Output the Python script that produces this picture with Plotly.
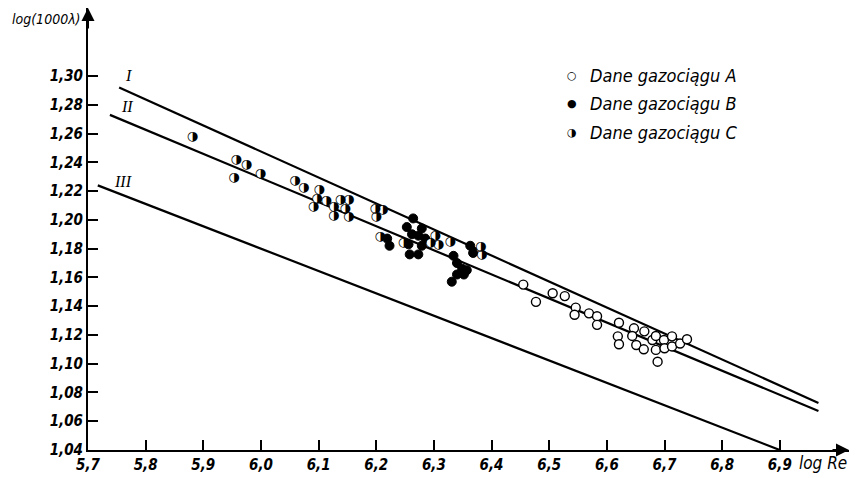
import plotly.graph_objects as go

# ---- data ----
# Dane gazociągu A (open circles)
a_x = [6.455, 6.477, 6.506, 6.527, 6.546, 6.544, 6.569, 6.583, 6.583, 6.621, 6.619, 6.621,
       6.647, 6.644, 6.651, 6.665, 6.664, 6.679, 6.685, 6.685, 6.688, 6.699, 6.700, 6.713,
       6.713, 6.727, 6.739]
a_y = [1.155, 1.143, 1.149, 1.147, 1.139, 1.134, 1.135, 1.133, 1.127, 1.1285, 1.119, 1.1135,
       1.1246, 1.1193, 1.113, 1.1225, 1.110, 1.1165, 1.1193, 1.1096, 1.1014, 1.1165, 1.1107, 1.119,
       1.112, 1.114, 1.117]

# Dane gazociągu B (filled circles)
b_x = [6.264, 6.253, 6.279, 6.262, 6.273, 6.285, 6.256, 6.279, 6.258, 6.273, 6.219, 6.223,
       6.363, 6.368, 6.334, 6.340, 6.349, 6.357, 6.352, 6.340, 6.331]
b_y = [1.201, 1.195, 1.194, 1.190, 1.189, 1.187, 1.183, 1.182, 1.176, 1.176, 1.187, 1.182,
       1.182, 1.177, 1.175, 1.170, 1.166, 1.165, 1.162, 1.162, 1.157]

# Dane gazociągu C (half-filled circles)
c_x = [5.881, 5.957, 5.975, 5.953, 5.999, 6.059, 6.074, 6.101, 6.097, 6.113, 6.091, 6.126,
       6.138, 6.152, 6.146, 6.126, 6.152, 6.198, 6.211, 6.200, 6.207, 6.247, 6.294, 6.302,
       6.308, 6.328, 6.381, 6.383]
c_y = [1.258, 1.242, 1.238, 1.229, 1.232, 1.227, 1.222, 1.221, 1.215, 1.213, 1.209, 1.209,
       1.214, 1.214, 1.208, 1.203, 1.202, 1.208, 1.207, 1.202, 1.188, 1.184, 1.184, 1.189,
       1.183, 1.185, 1.181, 1.176]

# straight lines I, II, III (end points)
line_I_x = [5.754, 6.967]
line_I_y = [1.292, 1.0727]
line_II_x = [5.738, 6.967]
line_II_y = [1.273, 1.0671]
line_III_x = [5.717, 6.900]
line_III_y = [1.224, 1.040]
line_names = ["I", "II", "III"]
line_label_x = [5.771, 5.768, 5.761]
line_label_y = [1.3007, 1.2790, 1.2270]

x_ticks = [5.7, 5.8, 5.9, 6.0, 6.1, 6.2, 6.3, 6.4, 6.5, 6.6, 6.7, 6.8, 6.9]
x_labels = ["5,7", "5,8", "5,9", "6,0", "6,1", "6,2", "6,3", "6,4", "6,5", "6,6", "6,7", "6,8", "6,9"]
y_ticks = [1.04, 1.06, 1.08, 1.10, 1.12, 1.14, 1.16, 1.18, 1.20, 1.22, 1.24, 1.26, 1.28, 1.30]
y_labels = ["1,04", "1,06", "1,08", "1,10", "1,12", "1,14", "1,16", "1,18", "1,20", "1,22",
            "1,24", "1,26", "1,28", "1,30"]

legend_labels = ["Dane gazociągu A", "Dane gazociągu B", "Dane gazociągu C"]
legend_symbols = ["○", "●", "◑"]

FONT = "Liberation Sans Narrow, DejaVu Sans Condensed, sans-serif"
SERIF = "Liberation Serif, DejaVu Serif, serif"

fig = go.Figure()

for lx, ly in [(line_I_x, line_I_y), (line_II_x, line_II_y), (line_III_x, line_III_y)]:
    fig.add_trace(go.Scatter(x=lx, y=ly, mode="lines",
                             line=dict(color="black", width=2.2),
                             hoverinfo="skip", showlegend=False))

fig.add_trace(go.Scatter(x=a_x, y=a_y, mode="markers", name=legend_labels[0],
                         marker=dict(symbol="circle", size=9, color="white",
                                     line=dict(color="black", width=1.4)),
                         showlegend=False))
fig.add_trace(go.Scatter(x=b_x, y=b_y, mode="markers", name=legend_labels[1],
                         marker=dict(symbol="circle", size=9, color="black",
                                     line=dict(color="black", width=1)),
                         showlegend=False))
fig.add_trace(go.Scatter(x=c_x, y=c_y, mode="markers+text", name=legend_labels[2],
                         text=["◑"] * len(c_x), textposition="middle center",
                         textfont=dict(family="DejaVu Sans", size=13, color="black"),
                         marker=dict(symbol="circle", size=8, color="white",
                                     line=dict(width=0)),
                         showlegend=False))

for name, lx, ly in zip(line_names, line_label_x, line_label_y):
    fig.add_annotation(x=lx, y=ly, xref="x", yref="y", text=name, showarrow=False,
                       font=dict(family=SERIF, size=16, color="black", style="italic"))

# legend drawn as text
leg_y = [0.848, 0.783, 0.719]
for sym, lab, yy in zip(legend_symbols, legend_labels, leg_y):
    fig.add_annotation(x=0.636, y=yy, xref="paper", yref="paper", text=sym,
                       showarrow=False, xanchor="center", yanchor="middle",
                       font=dict(family="DejaVu Sans", size=11, color="black"))
    fig.add_annotation(x=0.657, y=yy, xref="paper", yref="paper", text=lab,
                       showarrow=False, xanchor="left", yanchor="middle",
                       font=dict(family=FONT, size=18, color="black", style="italic"))

# axis titles
fig.add_annotation(x=-0.1025, y=0.998, xref="paper", yref="paper", text="log(1000λ)",
                   showarrow=False, xanchor="left", yanchor="top",
                   font=dict(family=FONT, size=14, color="black", style="italic"))
fig.add_annotation(x=0.9317, y=-0.0294, xref="paper", yref="paper", text="log Re",
                   showarrow=False, xanchor="left", yanchor="middle",
                   font=dict(family=FONT, size=17, color="black", style="italic"))

# axis arrows
fig.add_annotation(x=7.02, y=1.04, xref="x", yref="y", ax=-18, ay=0, text="",
                   showarrow=True, arrowhead=2, arrowsize=1.3, arrowwidth=2, arrowcolor="black")
fig.add_annotation(x=5.7, y=1.3473, xref="x", yref="y", ax=0, ay=22, text="",
                   showarrow=True, arrowhead=2, arrowsize=1.3, arrowwidth=2, arrowcolor="black")

tickfont = dict(family=FONT, size=15, color="black", style="italic", weight="bold")
fig.update_xaxes(range=[5.7, 7.02], tickvals=x_ticks, ticktext=x_labels, ticks="inside",
                 ticklen=10, tickwidth=1.5, tickcolor="black", showline=True,
                 linecolor="black", linewidth=2, showgrid=False, zeroline=False,
                 tickfont=tickfont)
fig.update_yaxes(range=[1.04, 1.3473], tickvals=y_ticks, ticktext=y_labels, ticks="inside",
                 ticklen=10, tickwidth=1.5, tickcolor="black", showline=True,
                 linecolor="black", linewidth=2, showgrid=False, zeroline=False,
                 tickfont=tickfont)

# the page body adds an 8 px offset, so the figure is 8 px smaller and margins shifted
fig.update_layout(width=850, height=470,
                  margin=dict(l=80, r=9, t=0, b=28, autoexpand=False),
                  plot_bgcolor="white", paper_bgcolor="white", showlegend=False)

fig.write_html("out.html")
